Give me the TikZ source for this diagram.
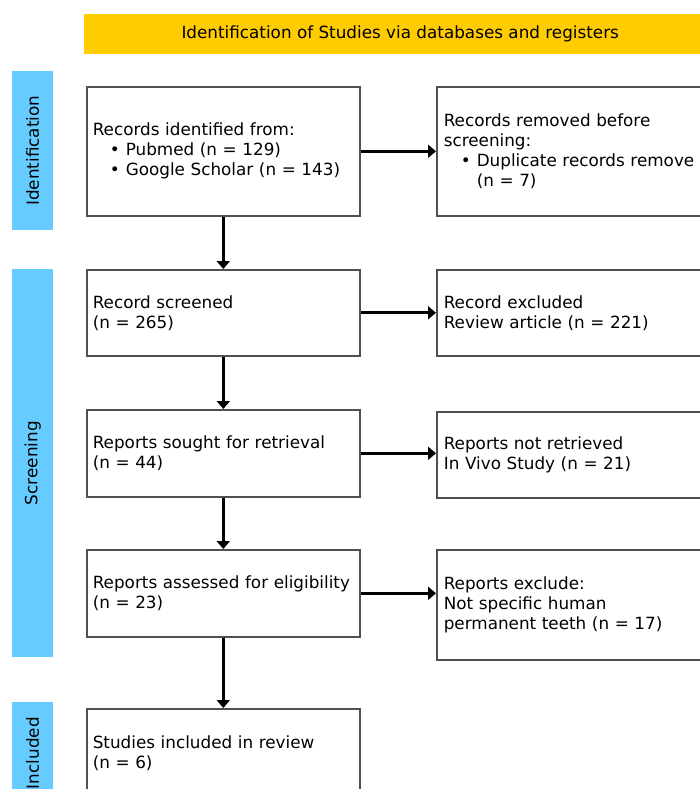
\documentclass[tikz,border=0pt]{standalone}
\usepackage{fontspec}
\setmainfont{DejaVu Sans}
\usetikzlibrary{arrows.meta}
\definecolor{hdryellow}{HTML}{FFCC00}
\definecolor{barblue}{HTML}{66CCFF}
\definecolor{boxline}{HTML}{505050}
\newcommand\bulitem{\hspace*{33pt}\llap{\textbullet\hspace{6pt}}}
\begin{document}
\begin{tikzpicture}[x=1pt,y=-1pt,
  every node/.style={font=\fontsize{16.8}{20}\selectfont},
  flowbox/.style={draw=boxline, line width=1.6pt, fill=white, anchor=north west,
    align=left, inner ysep=0pt},
  leftbox/.style={flowbox, inner xsep=6pt, text width=261pt},
  rightbox/.style={flowbox, inner xsep=7pt, text width=259pt},
  sidebar/.style={fill=barblue, draw=none, anchor=north west, minimum width=41pt, inner sep=0pt},
  flowarrow/.style={line width=3pt, -{Triangle[length=8pt,width=13pt]}}
]
\useasboundingbox (0,0) rectangle (700,789);
\clip (0,0) rectangle (700,789);
\fill[white] (0,0) rectangle (700,789);

% header
\node[fill=hdryellow, anchor=north west, minimum width=632pt, minimum height=40pt, inner sep=0pt] (hdr) at (84,14) {Identification of Studies via databases and registers};

% side bars
\node[sidebar, minimum height=159pt] (sid) at (12,71) {};
\node[rotate=90] (sidt) at (sid.center) {Identification};
\node[sidebar, minimum height=388pt] (scr) at (12,269) {};
\node[rotate=90] (scrt) at (scr.center) {Screening};
\node[sidebar, minimum height=102pt] (inc) at (12,702) {};
\node[rotate=90] (inct) at (inc.center) {Included};

% left column
\node[leftbox, minimum height=129pt] (b1) at (86,86) {Records identified from:\\
\bulitem Pubmed (n = 129)\\
\bulitem Google Scholar (n = 143)};
\node[leftbox, minimum height=86pt] (b2) at (86,269) {Record screened\\(n = 265)};
\node[leftbox, minimum height=87pt] (b3) at (86,409) {Reports sought for retrieval\\(n = 44)};
\node[leftbox, minimum height=87pt] (b4) at (86,549) {Reports assessed for eligibility\\(n = 23)};
\node[leftbox, minimum height=88pt] (b5) at (86,708) {Studies included in review\\(n = 6)};

% right column
\node[rightbox, minimum height=129pt] (r1) at (436,86) {Records removed before\\screening:\\
\bulitem Duplicate records remove\\
\hspace*{33pt}(n = 7)};
\node[rightbox, minimum height=86pt] (r2) at (436,269) {Record excluded\\Review article (n = 221)};
\node[rightbox, minimum height=86pt] (r3) at (436,411) {Reports not retrieved\\In Vivo Study (n = 21)};
\node[rightbox, minimum height=110pt] (r4) at (436,549) {Reports exclude:\\Not specific human\\permanent teeth (n = 17)};

% arrows
\draw[flowarrow] (b1.south) -- (b2.north);
\draw[flowarrow] (b2.south) -- (b3.north);
\draw[flowarrow] (b3.south) -- (b4.north);
\draw[flowarrow] (b4.south) -- (b5.north);
\draw[flowarrow] (b1.east) -- (b1.east -| r1.west);
\draw[flowarrow] (b2.east) -- (b2.east -| r2.west);
\draw[flowarrow] (b3.east) -- (b3.east -| r3.west);
\draw[flowarrow] (b4.east) -- (b4.east -| r4.west);
\end{tikzpicture}
\end{document}
